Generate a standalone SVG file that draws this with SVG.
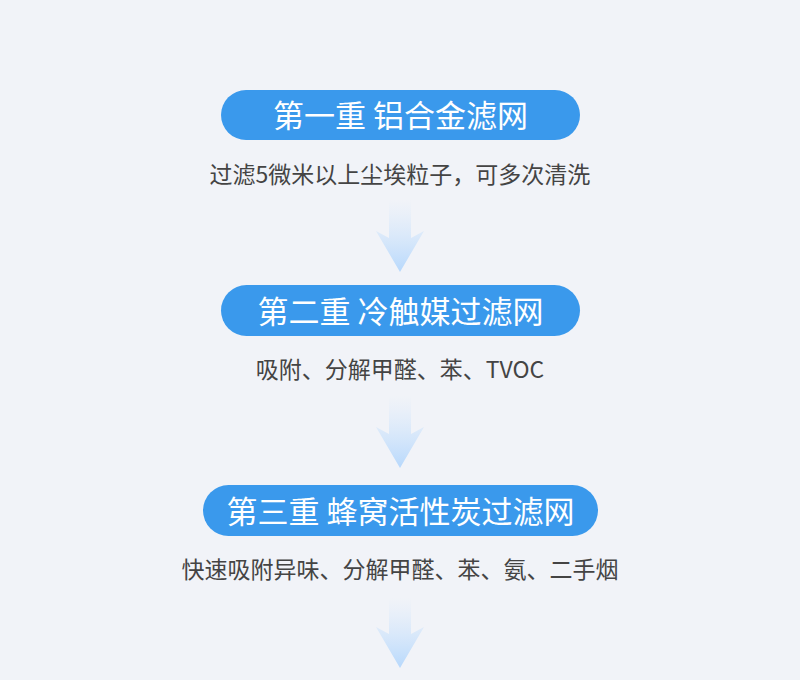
<svg xmlns="http://www.w3.org/2000/svg" width="800" height="680" viewBox="0 0 800 680">
<defs>
<linearGradient id="ag" x1="0" y1="0" x2="0" y2="1">
<stop offset="0" stop-color="#cfe5fc" stop-opacity="0"/>
<stop offset="1" stop-color="#b7d8fc"/>
</linearGradient>
<style>
.pill{fill:#3a99ec}
.t{font-family:"Noto Sans CJK SC","Noto Sans",sans-serif;font-size:31px;fill:#fff;text-anchor:middle;dominant-baseline:central}
.s{font-family:"Noto Sans CJK SC","Noto Sans",sans-serif;font-size:23px;fill:#444;text-anchor:middle;dominant-baseline:central}
.arr{fill:url(#ag)}
</style>
</defs>
<rect width="800" height="680" fill="#f1f3f8"/>
<g id="node1">
<rect class="pill" x="221" y="90" width="359" height="50" rx="25"/>
<text class="t" x="400.5" y="113">第一重 铝合金滤网</text>
<text class="s" x="400" y="173">过滤5微米以上尘埃粒子，可多次清洗</text>
</g>
<g id="node2">
<rect class="pill" x="221" y="285" width="359" height="51" rx="25.5"/>
<text class="t" x="400.5" y="309">第二重 冷触媒过滤网</text>
<text class="s" x="400" y="368">吸附、分解甲醛、苯、TVOC</text>
</g>
<g id="node3">
<rect class="pill" x="203" y="485" width="395" height="51" rx="25.5"/>
<text class="t" x="400.5" y="509">第三重 蜂窝活性炭过滤网</text>
<text class="s" x="400" y="568">快速吸附异味、分解甲醛、苯、氨、二手烟</text>
</g>
<g id="connectors">
<polygon class="arr" points="389,200 411,200 411,238 424,231 400,272 376,231 389,238"/>
<polygon class="arr" points="389,396 411,396 411,434 424,427 400,468 376,427 389,434"/>
<polygon class="arr" points="389,598 411,598 411,634 424,627 400,668 376,627 389,634"/>
</g>
</svg>
